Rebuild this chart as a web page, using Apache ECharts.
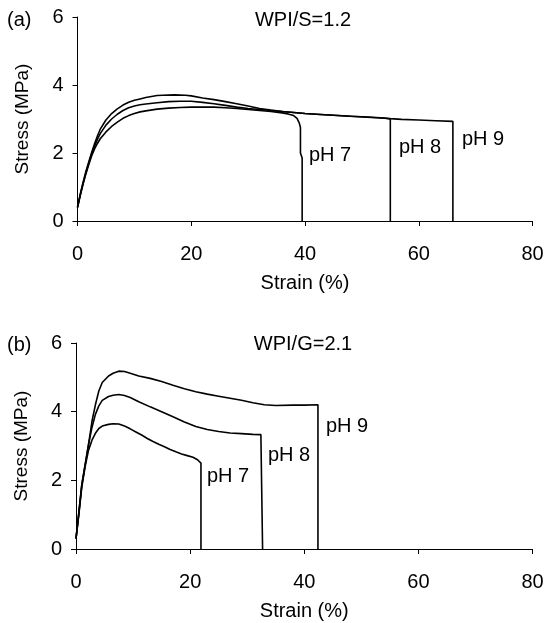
<!DOCTYPE html>
<html>
<head>
<meta charset="utf-8">
<script src="https://cdn.jsdelivr.net/npm/echarts@6/dist/echarts.min.js"></script>
<style>html,body{margin:0;padding:0;background:#fff;}#chart{width:547px;height:623px;}</style>
</head>
<body>
<div id="chart"></div>
<script>
// Panel (a) WPI/S=1.2 : [strain %, stress MPa]
const a_pH7 = [[0,0.4],[0.5,0.76],[1,1.1],[1.5,1.4],[2,1.67],[2.5,1.92],[3,2.12],[3.5,2.28],[4,2.42],[5,2.62],[6,2.78],[7,2.91],[8,3.02],[9,3.1],[10,3.16],[11,3.21],[12,3.24],[14,3.29],[16,3.32],[18,3.34],[20,3.35],[22,3.35],[24,3.35],[26,3.33],[28,3.31],[30,3.28],[32,3.25],[34,3.22],[36,3.18],[37,3.15],[38,3.1],[38.6,3.02],[39.0,2.88],[39.2,2.75],[39.2,2.0],[39.5,1.85],[39.5,0]];
const a_pH8 = [[0,0.4],[0.5,0.78],[1,1.12],[1.5,1.43],[2,1.71],[2.5,1.98],[3,2.2],[3.5,2.4],[4,2.57],[5,2.82],[6,3.0],[7,3.14],[8,3.25],[9,3.33],[10,3.38],[11,3.42],[12,3.44],[14,3.48],[16,3.51],[18,3.52],[20,3.52],[22,3.49],[24,3.45],[26,3.4],[28,3.35],[30,3.31],[32,3.28],[34,3.25],[36,3.22],[38,3.19],[40,3.16],[42,3.14],[45,3.11],[48,3.08],[51,3.05],[54,3.02],[55,3.0],[55,0]];
const a_pH9 = [[0,0.4],[0.5,0.8],[1,1.15],[1.5,1.47],[2,1.75],[2.5,2.02],[3,2.27],[3.5,2.5],[4,2.7],[5,2.97],[6,3.16],[7,3.3],[8,3.41],[9,3.49],[10,3.55],[11,3.59],[12,3.63],[13,3.66],[14,3.69],[15,3.7],[17,3.71],[19,3.7],[20,3.68],[22,3.62],[24,3.57],[26,3.51],[28,3.45],[30,3.38],[32,3.31],[34,3.26],[36,3.22],[38,3.19],[40,3.16],[42,3.14],[45,3.11],[48,3.08],[51,3.06],[54,3.03],[55,3.01],[57,2.99],[60,2.97],[63,2.95],[66,2.93],[66,0]];

// Panel (b) WPI/G=2.1
const b_pH7 = [[0,0.3],[0.5,1.0],[1,1.78],[1.6,2.4],[2.2,2.88],[2.8,3.17],[3.4,3.37],[4,3.51],[4.6,3.58],[5.7,3.63],[6.5,3.65],[7.5,3.64],[8.5,3.58],[9.5,3.5],[10.5,3.41],[11.5,3.32],[12.5,3.22],[13.5,3.13],[14.5,3.05],[15.5,2.98],[16.5,2.9],[17.5,2.83],[18.5,2.77],[19.5,2.72],[20.5,2.67],[21.3,2.6],[21.9,2.5],[21.9,0]];
const b_pH8 = [[0,0.3],[0.5,1.06],[1,1.85],[1.6,2.45],[2.2,3.05],[2.8,3.54],[3.4,3.92],[4,4.17],[4.6,4.33],[5.7,4.44],[6.5,4.48],[7.5,4.5],[8.5,4.47],[9.5,4.41],[11,4.29],[13,4.14],[15,4.0],[17,3.85],[19,3.7],[21,3.57],[23,3.48],[25,3.42],[27,3.38],[29,3.36],[31,3.34],[32.4,3.33],[32.7,3.28],[32.7,0]];
const b_pH9 = [[0,0.3],[0.5,1.06],[1,1.85],[1.6,2.45],[2.2,3.05],[2.8,3.72],[3.4,4.2],[4,4.6],[4.6,4.85],[5.7,5.04],[6.5,5.12],[7.5,5.18],[8.5,5.17],[9.5,5.12],[11,5.04],[13,4.97],[15,4.88],[17,4.77],[19,4.67],[21,4.58],[23,4.51],[25,4.45],[27,4.39],[29,4.33],[31,4.26],[33,4.2],[35,4.18],[38,4.19],[40,4.19],[42.4,4.2],[42.4,0]];

const panelTags = ['(a)', '(b)'];
const panelTitles = ['WPI/S=1.2', 'WPI/G=2.1'];
const seriesNames = ['pH 7', 'pH 8', 'pH 9'];
const xName = 'Strain (%)';
const yName = 'Stress (MPa)';

const FONT = '"Liberation Sans", Arial, sans-serif';
const FS = 20;
const chart = echarts.init(document.getElementById('chart'), null, {renderer: 'canvas'});

function xAx(gi) {
  return {
    type: 'value', gridIndex: gi, min: 0, max: 80, interval: 20,
    name: xName, nameLocation: 'middle', nameGap: 52,
    nameTextStyle: {fontFamily: FONT, fontSize: FS, color: '#000'},
    axisLine: {show: true, lineStyle: {color: '#000', width: 1}},
    axisTick: {show: true, length: 5, lineStyle: {color: '#000'}},
    axisLabel: {fontFamily: FONT, fontSize: FS, color: '#000', margin: 23},
    splitLine: {show: false}
  };
}
function yAx(gi) {
  return {
    type: 'value', gridIndex: gi, min: 0, max: 6, interval: 2,
    name: yName, nameLocation: 'middle', nameGap: 45, nameRotate: 90,
    nameTextStyle: {fontFamily: FONT, fontSize: 19, color: '#000'},
    axisLine: {show: true, lineStyle: {color: '#000', width: 1}},
    axisTick: {show: true, length: 5, lineStyle: {color: '#000'}},
    axisLabel: {fontFamily: FONT, fontSize: FS, color: '#000', margin: 14},
    splitLine: {show: false}
  };
}
function ser(data, gi, name) {
  return {
    type: 'line', name: name, xAxisIndex: gi, yAxisIndex: gi, data: data,
    showSymbol: false, symbol: 'none', animation: false,
    lineStyle: {color: '#000', width: 1.6}
  };
}
function txt(s, x, y, align) {
  return {type: 'text', x: x, y: y, style: {text: s, fill: '#000', font: FS + 'px ' + FONT, align: align || 'left', verticalAlign: 'middle'}};
}

chart.setOption({
  backgroundColor: '#fff',
  animation: false,
  grid: [
    {left: 77.5, top: 17, width: 455, height: 204},
    {left: 76, top: 343, width: 456.5, height: 206}
  ],
  xAxis: [xAx(0), xAx(1)],
  yAxis: [yAx(0), yAx(1)],
  series: [
    ser(a_pH7, 0, seriesNames[0]), ser(a_pH8, 0, seriesNames[1]), ser(a_pH9, 0, seriesNames[2]),
    ser(b_pH7, 1, seriesNames[0]), ser(b_pH8, 1, seriesNames[1]), ser(b_pH9, 1, seriesNames[2])
  ],
  graphic: [
    txt(panelTags[0], 7, 20), txt(panelTitles[0], 303, 20, 'center'),
    txt(seriesNames[0], 309, 155), txt(seriesNames[1], 399, 147.5), txt(seriesNames[2], 462, 139),
    txt(panelTags[1], 7, 345), txt(panelTitles[1], 303, 344, 'center'),
    txt(seriesNames[0], 207, 476), txt(seriesNames[1], 268, 455), txt(seriesNames[2], 326, 426.5)
  ]
});
</script>
</body>
</html>
